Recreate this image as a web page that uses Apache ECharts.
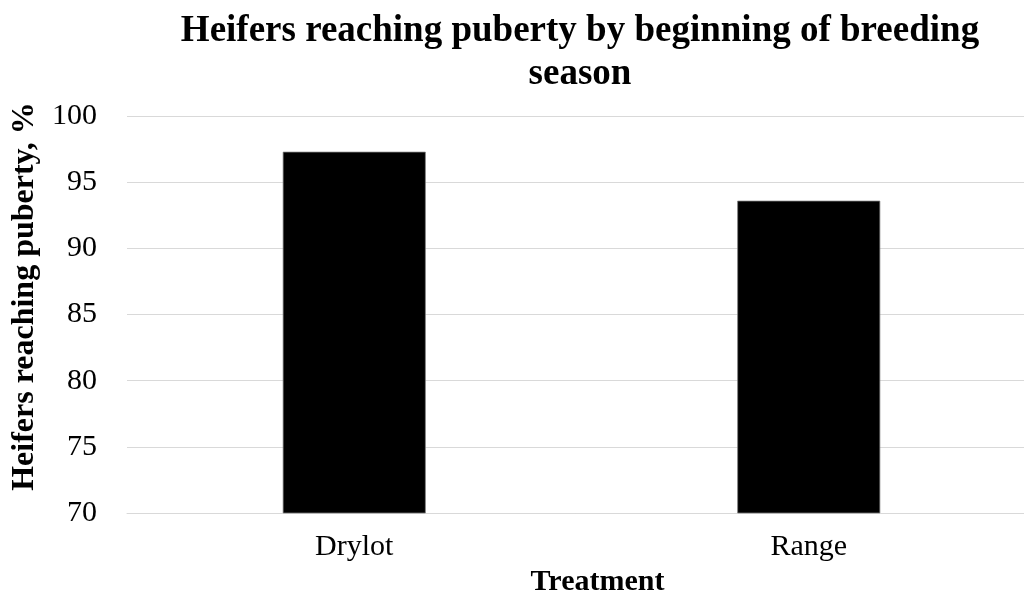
<!DOCTYPE html>
<html>
<head>
<meta charset="utf-8">
<script src="https://cdn.jsdelivr.net/npm/echarts@6/dist/echarts.min.js"></script>
<style>
  html, body { margin: 0; padding: 0; background: #fff; }
  #chart { width: 1024px; height: 594px; }
</style>
</head>
<body>
<div id="chart"></div>
<script>
// data
const treatments = ['Drylot', 'Range'];
const pubertyPct = [97.3, 93.6];
const yTicks = [70, 75, 80, 85, 90, 95, 100];

const chart = echarts.init(document.getElementById('chart'));
const serif = '"Liberation Serif", "Times New Roman", serif';

const option = {
  animation: false,
  title: {
    text: 'Heifers reaching puberty by beginning of breeding\nseason',
    left: 575,
    top: 5,
    textAlign: 'center',
    textStyle: {
      fontFamily: serif,
      fontWeight: 'bold',
      fontSize: 37,
      lineHeight: 43,
      color: '#000'
    }
  },
  grid: {
    left: 127,
    top: 116,
    width: 909,
    height: 397,
    outerBoundsMode: 'none'
  },
  xAxis: {
    type: 'category',
    data: treatments,
    name: 'Treatment',
    nameLocation: 'middle',
    nameGap: 49,
    nameTextStyle: {
      fontFamily: serif,
      fontWeight: 'bold',
      fontSize: 30,
      color: '#000',
      padding: [0, 0, 0, 32]
    },
    axisLine: { lineStyle: { color: '#d9d9d9', width: 1 } },
    axisTick: { show: false },
    axisLabel: {
      fontFamily: serif,
      fontSize: 30,
      color: '#000',
      margin: 19
    }
  },
  yAxis: {
    type: 'value',
    min: yTicks[0],
    max: yTicks[yTicks.length - 1],
    interval: 5,
    name: 'Heifers reaching puberty, %',
    nameLocation: 'middle',
    nameGap: 76,
    nameTextStyle: {
      fontFamily: serif,
      fontWeight: 'bold',
      fontSize: 32,
      color: '#000',
      padding: [0, 0, 0, 36]
    },
    axisLine: { show: false },
    axisTick: { show: false },
    splitLine: { lineStyle: { color: '#d9d9d9', width: 1 } },
    axisLabel: {
      fontFamily: serif,
      fontSize: 30,
      color: '#000',
      margin: 30
    }
  },
  series: [
    {
      type: 'bar',
      data: pubertyPct,
      barWidth: 143,
      itemStyle: {
        color: '#000',
        borderColor: '#7f7f7f',
        borderWidth: 0.75
      }
    }
  ]
};

chart.setOption(option);
</script>
</body>
</html>
